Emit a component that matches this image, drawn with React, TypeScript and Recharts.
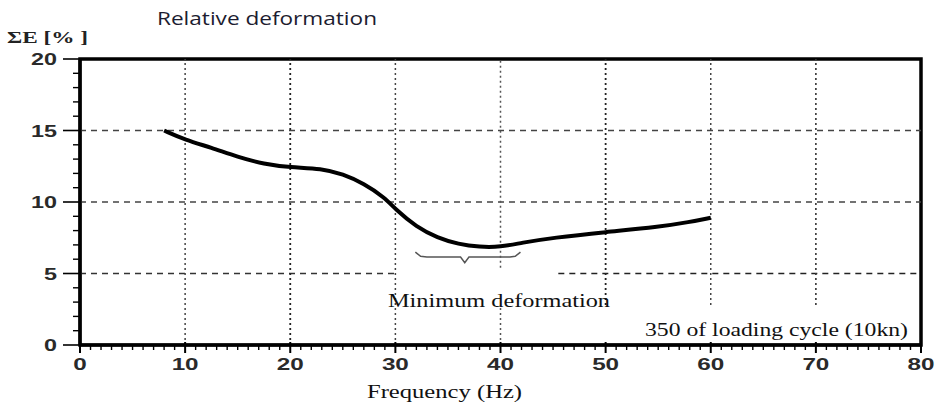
import React from 'react';
import { LineChart, Line, XAxis, YAxis, ReferenceLine, ReferenceArea } from 'recharts';

// Curve: relative deformation vs frequency
const freqHz = [8, 10, 12.5, 15, 17.5, 20, 23, 25, 27, 29, 30, 32, 34, 36, 38, 40, 42, 45, 50, 55, 58, 60];
const deformation = [15, 14.35, 13.8, 13.15, 12.65, 12.42, 12.35, 11.95, 11.3, 10.3, 9.5, 8.25, 7.5, 7.05, 6.85, 6.85, 7.15, 7.5, 7.9, 8.25, 8.6, 8.9];

// Brace annotation under the minimum
const braceX = [31.9, 32.4, 33, 36.2, 36.6, 37, 40.9, 41.4, 41.9];
const braceY = [6.5, 6.2, 6.15, 6.15, 5.75, 6.15, 6.15, 6.2, 6.5];

const xMajorTicks = [0, 10, 20, 30, 40, 50, 60, 70, 80];
const yMajorTicks = [0, 5, 10, 15, 20];
const xAllTicks = Array.from({ length: 81 }, (_, i) => i);
const yAllTicks = Array.from({ length: 21 }, (_, i) => i);

const curveData = freqHz.map((x, i) => ({ x, y: deformation[i] }));
const braceData = braceX.map((x, i) => ({ x, y: braceY[i] }));

const tickFont = '"Liberation Sans", Arial, sans-serif';
const serif = '"Liberation Serif", "Times New Roman", serif';

const XTick = (props: any) => {
  const { x, y, payload } = props;
  const v = payload.value;
  const major = xMajorTicks.includes(v);
  const label = String(v);
  return (
    <g>
      <line x1={x} x2={x} y1={y - (major ? 3 : 0)} y2={y + (major ? 8 : 5)} stroke="#000" strokeWidth={major ? 2 : 1.4} />
      {major && (
        <text x={x} y={y + 25} textAnchor="middle" fontFamily={tickFont} fontSize={17} fontWeight={700} fill="#2a2a2a"
          textLength={label.length * 13.5} lengthAdjust="spacingAndGlyphs">
          {label}
        </text>
      )}
    </g>
  );
};

const YTick = (props: any) => {
  const { x, y, payload } = props;
  const v = payload.value;
  const major = yMajorTicks.includes(v);
  const label = String(v);
  return (
    <g>
      <line x1={x} x2={x - (major ? 17 : 7)} y1={y} y2={y} stroke="#000" strokeWidth={major ? 1.6 : 1.4} />
      {major && (
        <text x={x - 23} y={y + 6} textAnchor="end" fontFamily={tickFont} fontSize={17} fontWeight={700} fill="#2a2a2a"
          textLength={label.length * 13} lengthAdjust="spacingAndGlyphs">
          {label}
        </text>
      )}
    </g>
  );
};

export default function App() {
  return (
    <div style={{ position: 'absolute', left: 0, top: 0, width: 939, height: 408, background: '#fff' }}>
      <LineChart width={939} height={408} margin={{ top: 59, right: 18, bottom: 0, left: 0 }}>
        <XAxis
          type="number"
          dataKey="x"
          domain={[0, 80]}
          ticks={xAllTicks}
          interval={0}
          tickSize={0}
          tickMargin={0}
          tick={<XTick />}
          axisLine={{ stroke: '#000', strokeWidth: 3 }}
          height={63}
          allowDataOverflow
        />
        <YAxis
          type="number"
          dataKey="y"
          domain={[0, 20]}
          ticks={yAllTicks}
          interval={0}
          tickSize={0}
          tickMargin={0}
          tick={<YTick />}
          axisLine={{ stroke: '#000', strokeWidth: 3 }}
          width={80}
          allowDataOverflow
        />
        {/* horizontal dashed grid */}
        <ReferenceLine y={15} stroke="#444" strokeWidth={1.5} strokeDasharray="6 5" />
        <ReferenceLine y={10} stroke="#444" strokeWidth={1.5} strokeDasharray="6 5" />
        <ReferenceLine segment={[{ x: 0, y: 5 }, { x: 30, y: 5 }]} stroke="#333" strokeWidth={1.5} strokeDasharray="6 5" />
        <ReferenceLine segment={[{ x: 45.5, y: 5 }, { x: 80, y: 5 }]} stroke="#222" strokeWidth={1.6} strokeDasharray="6 5" />
        {/* vertical dotted grid */}
        <ReferenceLine x={10} stroke="#444" strokeWidth={1.5} strokeDasharray="2 3" />
        <ReferenceLine x={20} stroke="#222" strokeWidth={1.8} strokeDasharray="2 3" />
        <ReferenceLine x={30} stroke="#444" strokeWidth={1.5} strokeDasharray="2 3" />
        <ReferenceLine segment={[{ x: 40, y: 5.4 }, { x: 40, y: 20 }]} stroke="#555" strokeWidth={1.5} strokeDasharray="2 3" />
        <ReferenceLine segment={[{ x: 40, y: 0 }, { x: 40, y: 2.8 }]} stroke="#555" strokeWidth={1.5} strokeDasharray="2 3" />
        <ReferenceLine segment={[{ x: 50, y: 2.8 }, { x: 50, y: 20 }]} stroke="#222" strokeWidth={1.8} strokeDasharray="2 3" />
        <ReferenceLine segment={[{ x: 60, y: 2.8 }, { x: 60, y: 20 }]} stroke="#444" strokeWidth={1.5} strokeDasharray="2 3" />
        <ReferenceLine segment={[{ x: 70, y: 2.8 }, { x: 70, y: 20 }]} stroke="#333" strokeWidth={1.6} strokeDasharray="2 3" />
        <Line
          data={braceData}
          dataKey="y"
          type="linear"
          stroke="#555"
          strokeWidth={1.5}
          dot={false}
          isAnimationActive={false}
        />
        <Line
          data={curveData}
          dataKey="y"
          type="basis"
          stroke="#000"
          strokeWidth={4}
          dot={false}
          isAnimationActive={false}
        />
        <ReferenceArea x1={0} x2={80} y1={0} y2={20} fill="none" fillOpacity={0} stroke="#000" strokeWidth={3.5} />
      </LineChart>
      <svg width={939} height={408} style={{ position: 'absolute', left: 0, top: 0, pointerEvents: 'none' }}>
        <text x={157} y={25} fontFamily='"Open Sans", sans-serif' fontSize={18} fill="#1c1c30" textLength={220} lengthAdjust="spacingAndGlyphs">
          Relative deformation
        </text>
        <text x={7} y={43} fontFamily={serif} fontSize={16} fontWeight={700} fill="#222" textLength={81} lengthAdjust="spacingAndGlyphs">
          ΣE [% ]
        </text>
        <text x={388} y={307} fontFamily={serif} fontSize={18} fill="#111" textLength={222} lengthAdjust="spacingAndGlyphs">
          Minimum deformation
        </text>
        <text x={645} y={336} fontFamily={serif} fontSize={18} fill="#111" textLength={263} lengthAdjust="spacingAndGlyphs">
          350 of loading cycle (10kn)
        </text>
        <text x={367} y={398} fontFamily={serif} fontSize={18} fill="#111" textLength={155} lengthAdjust="spacingAndGlyphs">
          Frequency (Hz)
        </text>
      </svg>
    </div>
  );
}
